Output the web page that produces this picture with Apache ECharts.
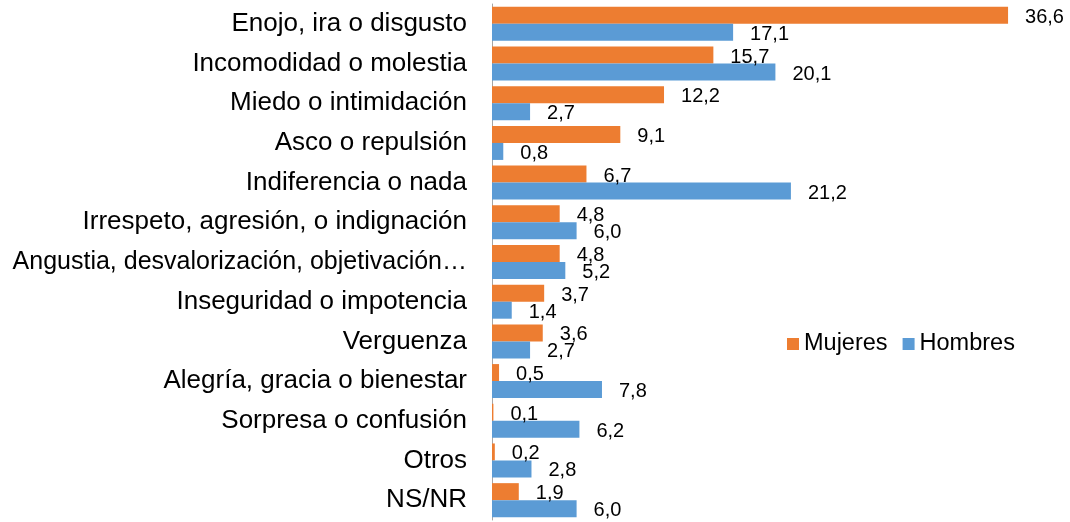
<!DOCTYPE html>
<html>
<head>
<meta charset="utf-8">
<script src="https://cdn.jsdelivr.net/npm/echarts@6/dist/echarts.min.js"></script>
<style>
	html,body{margin:0;padding:0;background:#fff;}
	#chartDiv{width:1070px;height:522px;}
</style>
</head>
<body>
<div id="chartDiv"></div>
<script>
// categorias (de arriba hacia abajo)
var categorias = [
	'Enojo, ira o disgusto',
	'Incomodidad o molestia',
	'Miedo o intimidación',
	'Asco o repulsión',
	'Indiferencia o nada',
	'Irrespeto, agresión, o indignación',
	'Angustia, desvalorización, objetivación…',
	'Inseguridad o impotencia',
	'Verguenza',
	'Alegría, gracia o bienestar',
	'Sorpresa o confusión',
	'Otros',
	'NS/NR'
];
var mujeres = [36.6, 15.7, 12.2, 9.1, 6.7, 4.8, 4.8, 3.7, 3.6, 0.5, 0.1, 0.2, 1.9];
var hombres = [17.1, 20.1, 2.7, 0.8, 21.2, 6.0, 5.2, 1.4, 2.7, 7.8, 6.2, 2.8, 6.0];

function etiqueta(p){
	return p.value.toFixed(1).replace('.', ',');
}

// la etiqueta larga va un poco mas chica para que entre
function etiquetaEje(v){
	if(v.length > 36){
		return '{largo|' + v + '}';
	}
	return v;
}

function serie(nombre, datos, color){
	return {
		name: nombre,
		type: 'bar',
		data: datos,
		barWidth: 17,
		barGap: '0%',
		itemStyle: {color: color},
		label: {
			show: true,
			position: 'right',
			distance: 17,
			offset: [0, 2],
			color: '#000',
			fontSize: 20,
			fontFamily: 'Liberation Sans, Arial, sans-serif',
			formatter: etiqueta
		}
	};
}

function showChart(){
	var myChart = echarts.init(document.getElementById('chartDiv'));
	var option = {
		animation: false,
		textStyle: {fontFamily: 'Liberation Sans, Arial, sans-serif'},
		legend: {
			data: ['Mujeres', 'Hombres'],
			left: 782,
			top: 327,
			itemWidth: 12,
			itemHeight: 12,
			itemGap: 15,
			icon: 'rect',
			textStyle: {fontSize: 23.5, color: '#000'}
		},
		grid: {
			left: 492,
			right: 14,
			top: 4,
			bottom: 2,
			outerBoundsMode: 'none'
		},
		xAxis: {
			type: 'value',
			min: 0,
			max: 40,
			show: false
		},
		yAxis: {
			type: 'category',
			inverse: true,
			data: categorias,
			axisLine: {lineStyle: {color: '#a6a6a6', width: 1}},
			axisTick: {show: false},
			axisLabel: {
				margin: 25,
				fontSize: 26,
				color: '#000',
				formatter: etiquetaEje,
				rich: {
					largo: {fontSize: 25, color: '#000'}
				}
			}
		},
		series: [
			serie('Mujeres', mujeres, '#ED7D31'),
			serie('Hombres', hombres, '#5B9BD5')
		]
	};
	myChart.setOption(option);
}

showChart();
</script>
</body>
</html>
